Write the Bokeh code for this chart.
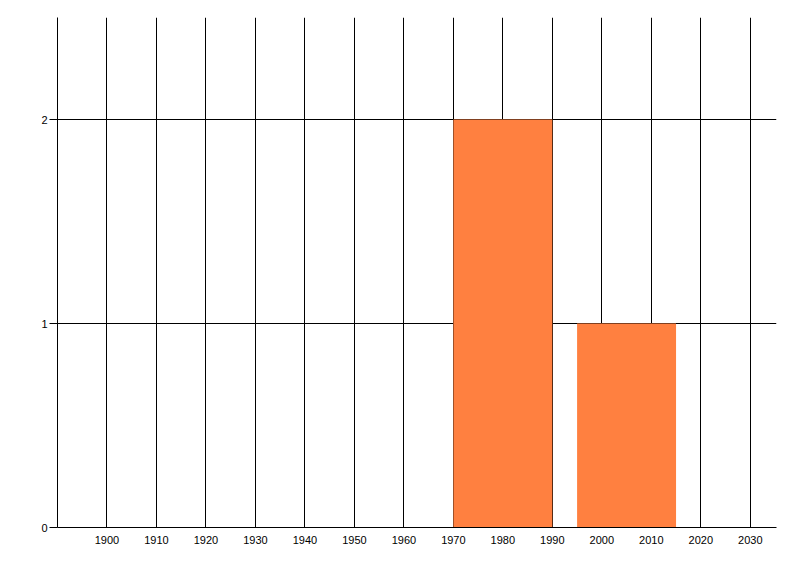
from bokeh.plotting import figure
from bokeh.models import FixedTicker, Range1d
from bokeh.embed import file_html
from bokeh.resources import INLINE

# data
bar_left = [1970, 1995]
bar_right = [1990, 2015]
bar_height = [2, 1]
x_ticks = [1900, 1910, 1920, 1930, 1940, 1950, 1960, 1970, 1980, 1990, 2000, 2010, 2020, 2030]
y_ticks = [0, 1, 2]

p = figure(width=784, height=560, output_backend="svg", toolbar_location=None,
           x_range=Range1d(1890, 2035.3), y_range=Range1d(0, 2.5),
           min_border_left=57, min_border_right=8, min_border_top=17, min_border_bottom=33)
p.outline_line_color = None
p.background_fill_color = "white"
p.border_fill_color = "white"

p.quad(left=bar_left, right=bar_right, bottom=0, top=bar_height,
       fill_color="#FF8040", line_color=None)

font = "Liberation Sans"
p.xaxis.ticker = FixedTicker(ticks=x_ticks)
p.yaxis.ticker = FixedTicker(ticks=y_ticks)
p.xaxis.major_tick_out = 0
p.xaxis.major_tick_in = 0
p.xaxis.minor_tick_line_color = None
p.yaxis.minor_tick_line_color = None
p.yaxis.major_tick_out = 8
p.yaxis.major_tick_in = 0
p.xaxis.major_label_standoff = 8
p.yaxis.major_label_standoff = 2
for ax in (p.xaxis, p.yaxis):
    ax.axis_line_color = "black"
    ax.axis_line_width = 1
    ax.major_tick_line_color = "black"
    ax.major_label_text_font = font
    ax.major_label_text_font_size = "11px"
    ax.major_label_text_color = "black"

p.xgrid.ticker = FixedTicker(ticks=x_ticks)
p.ygrid.ticker = FixedTicker(ticks=[1, 2])
p.xgrid.grid_line_color = "black"
p.ygrid.grid_line_color = "black"
p.xgrid.grid_line_width = 1
p.ygrid.grid_line_width = 1

open("out.html", "w").write(file_html(p, INLINE))
